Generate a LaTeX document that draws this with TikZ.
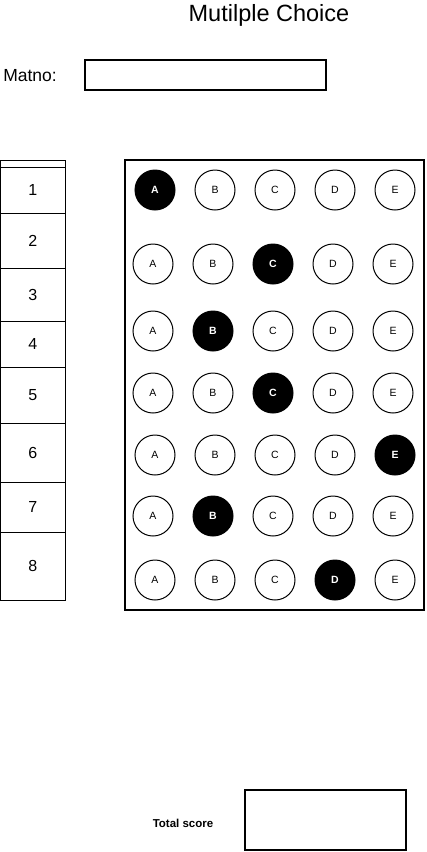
\documentclass[tikz,border=0pt]{standalone}
\usepackage{fontspec}
\setmainfont{Liberation Sans}
\usetikzlibrary{positioning}

\tikzset{
  bubble/.style={circle, draw, line width=1pt, minimum size=40pt, inner sep=0pt, font=\fontsize{10.5}{12}\selectfont},
  marked/.style={bubble, fill=black, text=white, font=\fontsize{10.5}{12}\selectfont\bfseries},
  cell/.style={draw, line width=1pt, minimum width=64.5pt, inner sep=0pt, font=\fontsize{16}{19}\selectfont},
  box/.style={draw, line width=2pt, inner sep=0pt}
}

\begin{document}
\begin{tikzpicture}[x=1pt, y=-1pt]
        \useasboundingbox (0,0) rectangle (427,852);

        \node (title) at (269,15) {\fontsize{23.5}{28}\selectfont Mutilple Choice};
        \node (matno) at (30,76) {\fontsize{17.5}{21}\selectfont Matno:};
        \node[box, minimum width=241pt, minimum height=30pt] (matnobox) at (205.5,75) {};

        % question numbers
        \node[cell, minimum height=7pt] (topstrip) at (32.75,163.5) {};
        \foreach \n/\y/\h in {1/190/46, 2/240.5/55, 3/294.5/53, 4/344/46, 5/395/56, 6/452.5/59, 7/507/50, 8/566/68}
            \node[cell, minimum height=\h pt] (num\n) at (32.75,\y) {\n};

        % answer sheet
        \node[box, minimum width=299pt, minimum height=450pt] (sheet) at (274.5,385) {};
        \foreach \r/\y/\x/\k in {1/190/155/1, 2/264/153/3, 3/331/153/2, 4/393/153/3, 5/455/155/5, 6/516/153/2, 7/580/155/4}
            \foreach \l [count=\i from 1] in {A,B,C,D,E} {
                \ifnum\i=\k
                    \node[marked] (q\r\l) at ({\x+60*(\i-1)},\y) {\l};
                \else
                    \node[bubble] (q\r\l) at ({\x+60*(\i-1)},\y) {\l};
                \fi
            };

        \node (total) at (183,823) {\fontsize{11.5}{14}\selectfont\bfseries Total score};
        \node[box, minimum width=161pt, minimum height=60pt] (totalbox) at (325.5,820) {};
\end{tikzpicture}
\end{document}
